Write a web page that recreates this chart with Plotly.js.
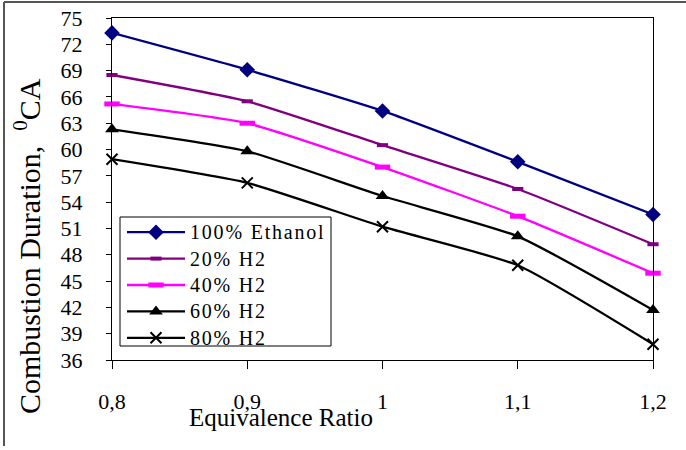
<!DOCTYPE html>
<html>
<head>
<meta charset="utf-8">
<script src="https://cdn.plot.ly/plotly-3.0.1.min.js"></script>
<style>
html,body{margin:0;padding:0;background:#fff;}
#chart{width:686px;height:450px;}
#chart .legend .legendtext{font-family:"Liberation Serif",serif !important;font-size:20px !important;letter-spacing:1.8px;}
#chart .legend .scrollbox{clip-path:none !important;}
</style>
</head>
<body>
<div id="chart"></div>
<script>
const ratios = [0.8, 0.9, 1.0, 1.1, 1.2];
const xTickText = ["0,8", "0,9", "1", "1,1", "1,2"];
const yTicks = [36, 39, 42, 45, 48, 51, 54, 57, 60, 63, 66, 69, 72, 75];
const seriesNames = ["100% Ethanol", "20% H2", "40% H2", "60% H2", "80% H2"];
const ethanol100 = [73.3, 69.1, 64.4, 58.6, 52.6];
const h2_20 = [68.5, 65.5, 60.5, 55.5, 49.2];
const h2_40 = [65.2, 63.0, 58.0, 52.4, 45.9];
const h2_60 = [62.3, 59.8, 54.7, 50.1, 41.7];
const h2_80 = [58.9, 56.2, 51.2, 46.8, 37.8];

const W = 686, H = 450, L = 112, R = 33, T = 18, B = 90;
const pw = W - L - R, ph = H - T - B;
const px = X => (X - L) / pw;
const py = Y => (H - B - Y) / ph;

const serif = "Liberation Serif";
function tr(name, y, color, symbol, msize, mline) {
  return {
    x: ratios, y: y, name: name, type: "scatter", mode: "lines+markers",
    line: {color: color, width: 2.3, shape: "spline", smoothing: 0.5},
    marker: {symbol: symbol, size: msize, color: color, line: {color: color, width: mline}},
    cliponaxis: false
  };
}
const data = [
  tr(seriesNames[0], ethanol100, "#000080", "diamond", 12, 0),
  tr(seriesNames[1], h2_20, "#800080", "line-ew", 8, 4),
  tr(seriesNames[2], h2_40, "#FF00FF", "line-ew", 11, 5),
  tr(seriesNames[3], h2_60, "#000000", "triangle-up", 12, 0),
  tr(seriesNames[4], h2_80, "#000000", "x-thin", 11, 2)
];

const layout = {
  width: W, height: H,
  margin: {l: L, r: R, t: T, b: B},
  paper_bgcolor: "#fff", plot_bgcolor: "#fff",
  font: {family: serif, color: "#000", size: 20},
  showlegend: true,
  legend: {
    x: px(122), y: py(214), xanchor: "left", yanchor: "top",
    bgcolor: "rgba(0,0,0,0)", borderwidth: 0,
    font: {family: serif, size: 18, color: "#000"},
    tracegroupgap: 0, itemwidth: 58
  },
  xaxis: {
    range: [0.8, 1.2], tickvals: ratios, ticktext: xTickText,
    showgrid: false, zeroline: false, showline: true, linecolor: "#000", linewidth: 1,
    mirror: true, ticks: "outside", ticklen: 8, tickcolor: "#000",
    ticklabelstandoff: 14,
    tickfont: {family: serif, size: 22, color: "#000"}
  },
  yaxis: {
    range: [36, 75], tickvals: yTicks,
    showgrid: false, zeroline: false, showline: true, linecolor: "#000", linewidth: 1,
    mirror: true, ticks: "outside", ticklen: 5, tickcolor: "#000",
    ticklabelstandoff: 19,
    tickfont: {family: serif, size: 22, color: "#000"}
  },
  annotations: [
    {text: "Combustion Duration,  <sup>0</sup>CA", xref: "paper", yref: "paper",
     x: px(27), y: py(246), xanchor: "center", yanchor: "middle", textangle: -90,
     showarrow: false, font: {family: serif, size: 30, color: "#000"}},
    {text: "Equivalence Ratio", xref: "paper", yref: "paper",
     x: px(281), y: py(417), xanchor: "center", yanchor: "middle",
     showarrow: false, font: {family: serif, size: 25, color: "#000"}}
  ],
  shapes: [
    {type: "rect", xref: "paper", yref: "paper", x0: px(120), x1: px(331), y0: py(346), y1: py(217),
     line: {color: "#000", width: 1}, fillcolor: "#fff", layer: "above"},
    {type: "line", xref: "paper", yref: "paper", x0: px(4), x1: px(4), y0: py(2), y1: py(446),
     line: {color: "#555", width: 2}},
    {type: "line", xref: "paper", yref: "paper", x0: px(4), x1: px(686), y0: py(2), y1: py(2),
     line: {color: "#555", width: 2}}
  ]
};

Plotly.newPlot("chart", data, layout, {displayModeBar: false, staticPlot: true});
</script>
</body>
</html>
